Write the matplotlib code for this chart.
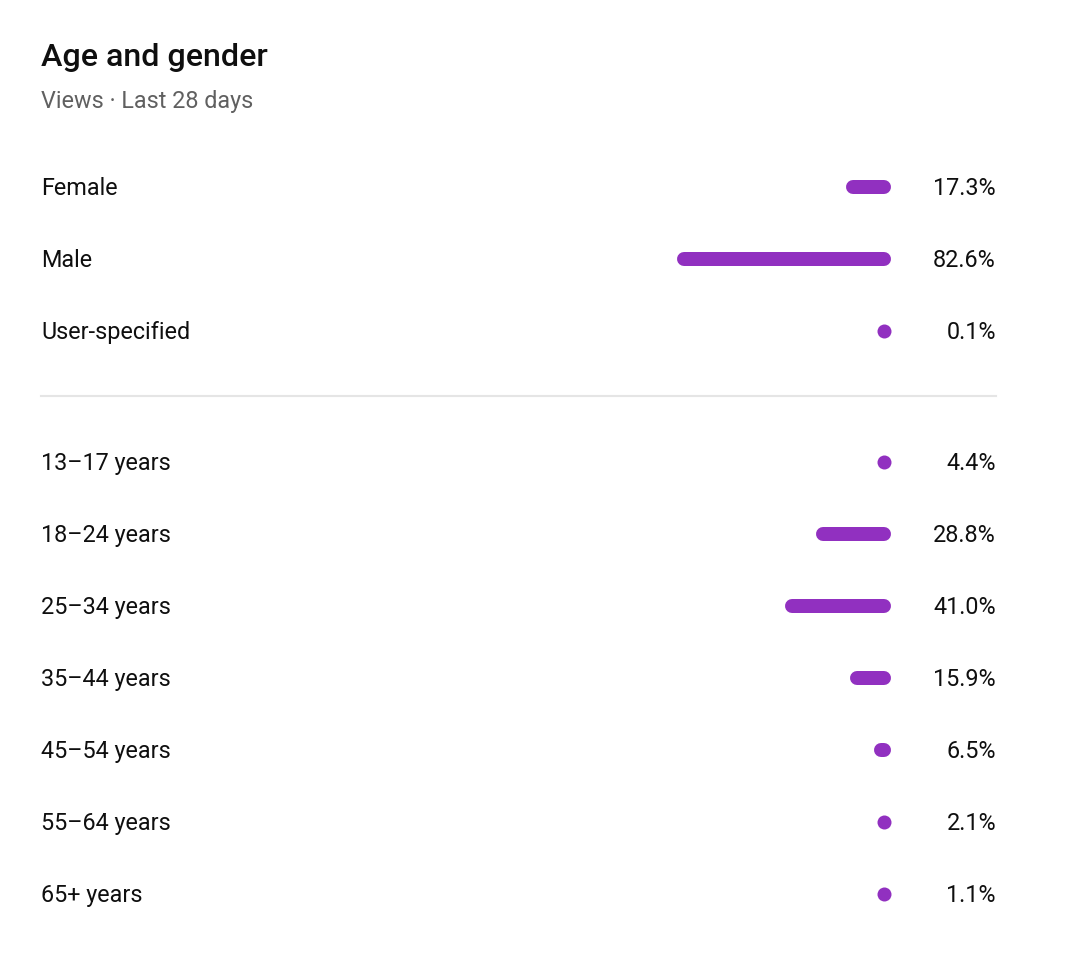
import matplotlib
matplotlib.use("Agg")
import matplotlib.pyplot as plt
from matplotlib.lines import Line2D

plt.rcParams['font.family'] = ['Roboto', 'DejaVu Sans']

# data
gender_labels = ["Female", "Male", "User-specified"]
gender_values = [17.3, 82.6, 0.1]
age_labels = ["13\u201317 years", "18\u201324 years", "25\u201334 years", "35\u201344 years",
              "45\u201354 years", "55\u201364 years", "65+ years"]
age_values = [4.4, 28.8, 41.0, 15.9, 6.5, 2.1, 1.1]

W, H = 1080, 955
fig = plt.figure(figsize=(W / 100, H / 100), dpi=100)
ax = fig.add_axes([0, 0, 1, 1])
ax.set_xlim(0, W)
ax.set_ylim(H, 0)
ax.axis("off")

bar_color = "#9130c0"
text_color = "#0f0f0f"
left = 41
bar_right = 891
val_right = 996
px_per_pct = 2.59
bar_h = 14  # px
lw_pt = bar_h * 72 / 100
fs = 16.8

ax.text(left, 66, "Age and gender", fontsize=23.2, fontweight="medium",
        color=text_color, va="baseline", ha="left")
ax.text(left, 108, "Views \u00b7 Last 28 days", fontsize=fs,
        color="#606060", va="baseline", ha="left")


def draw_rows(labels, values, y0, step=72):
    for i, (lab, v) in enumerate(zip(labels, values)):
        y = y0 + i * step
        ax.text(left, y + 8, lab, fontsize=fs, color=text_color,
                va="baseline", ha="left")
        ax.text(val_right, y + 8, f"{v:.1f}%", fontsize=fs, color=text_color,
                va="baseline", ha="right")
        total = max(bar_h, v * px_per_pct)
        x1 = bar_right - bar_h / 2
        x0 = x1 - (total - bar_h)
        if total - bar_h < 1:
            # too short for a bar: a single round dot
            ax.plot([x1], [y], "o", ms=lw_pt, mew=0, color=bar_color)
        else:
            ax.add_line(Line2D([x0, x1], [y, y], lw=lw_pt, color=bar_color,
                               solid_capstyle="round"))


draw_rows(gender_labels, gender_values, 187)
ax.plot([left, val_right], [396, 396], color="#e5e5e5", lw=1.5)
draw_rows(age_labels, age_values, 462)

fig.savefig("out.png", dpi=100, facecolor="white")
